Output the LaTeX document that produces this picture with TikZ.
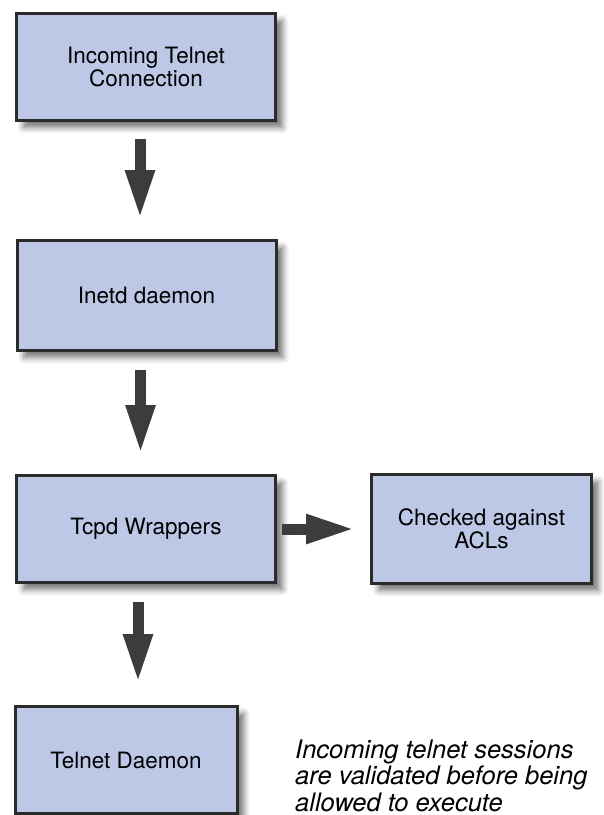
\documentclass[tikz,border=0pt]{standalone}
\usepackage{fontspec}
\setsansfont{TeX Gyre Heros}
\usetikzlibrary{arrows.meta, shadows.blur}
\definecolor{boxblue}{HTML}{BCC8E6}
\definecolor{boxline}{HTML}{2B2B2B}
\definecolor{arrowgray}{HTML}{3C3C3C}
\tikzset{
    procbox/.style={draw=boxline, line width=3pt, fill=boxblue,
        minimum width=259pt, minimum height=107pt, align=center,
        font=\sffamily\fontsize{22.5}{23}\selectfont,
        blur shadow={shadow xshift=7pt, shadow yshift=-7pt,
            shadow blur radius=6pt, shadow opacity=55}},
    flowarrow/.style={draw=arrowgray, line width=11pt,
        -{Triangle[length=49pt, width=27pt, fill=arrowgray]}}
}
\begin{document}
\begin{tikzpicture}[x=1pt, y=-1pt]
    \useasboundingbox (0,0) rectangle (604,815);

    % Boxes
    \node[procbox] (incoming) at (146,67) {Incoming Telnet\\Connection};
    \node[procbox, minimum height=110pt] (inetd) at (146.5,295.5) {Inetd daemon};
    \node[procbox] (tcpd) at (146,529) {Tcpd Wrappers};
    \node[procbox, minimum width=220pt, minimum height=109pt] (acl) at (481.5,529)
        {Checked against\\ACLs};
    \node[procbox, minimum width=222pt] (telnetd) at (126,760) {Telnet Daemon};

    % Arrows
    \draw[flowarrow, shorten <=17pt, shorten >=20pt]
        ([xshift=-6pt]incoming.south) -- ([xshift=-6pt]incoming.south |- inetd.north);
    \draw[flowarrow, shorten <=18pt, shorten >=20pt]
        ([xshift=-6pt]inetd.south) -- ([xshift=-6pt]inetd.south |- tcpd.north);
    \draw[flowarrow, shorten <=18pt, shorten >=22pt]
        ([xshift=-8pt]tcpd.south) -- ([xshift=-8pt]tcpd.south |- telnetd.north);
    \draw[flowarrow, shorten <=5pt, shorten >=15pt] (tcpd) -- (acl);

    % Caption
    \node[anchor=base west, align=left, inner sep=0pt,
        font=\sffamily\itshape\fontsize{25.5}{26.5}\selectfont] (caption) at (295,811)
        {Incoming telnet sessions\\are validated before being\\allowed to execute};
\end{tikzpicture}
\end{document}
